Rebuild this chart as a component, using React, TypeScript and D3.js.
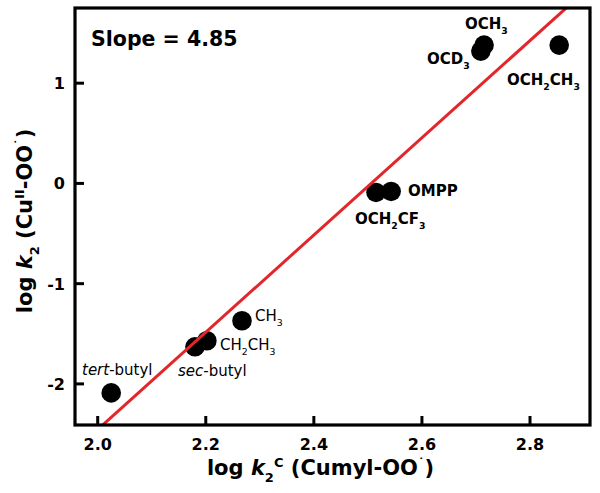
import * as d3 from "d3";

// log k2C (Cumyl-OO) vs log k2 (Cu(II)-OO) for each substituent
const names = ["tert-butyl", "sec-butyl", "CH2CH3", "CH3", "OCH2CF3", "OMPP", "OCD3", "OCH3", "OCH2CH3"];
const logK2C = [2.025, 2.18, 2.202, 2.267, 2.515, 2.543, 2.709, 2.715, 2.854];
const logK2 = [-2.09, -1.63, -1.57, -1.37, -0.09, -0.08, 1.32, 1.38, 1.38];

const fitSlope = 4.85;
const fitIntercept = -12.155;

const xTicks = [2.0, 2.2, 2.4, 2.6, 2.8];
const yTicks = [-2, -1, 0, 1];

const width = 600;
const height = 493;
const plot = { left: 75, right: 590, top: 8, bottom: 425 };
const font = "'DejaVu Sans', Arial, sans-serif";

type Part = { t: string; sub?: boolean; sup?: boolean; italic?: boolean };

function Rich({ x, y, parts, size, weight = "bold", anchor = "start", transform }: {
  x: number; y: number; parts: Part[]; size: number; weight?: string; anchor?: string; transform?: string;
}) {
  let cur = 0;
  return (
    <text x={x} y={y} fontSize={size} fontWeight={weight} fontFamily={font} textAnchor={anchor} transform={transform}>
      {parts.map((p, i) => {
        const target = p.sub ? size * 0.32 : p.sup ? -size * 0.4 : 0;
        const dy = target - cur;
        cur = target;
        return (
          <tspan key={i} dy={dy} fontSize={p.sub || p.sup ? size * 0.62 : size} fontStyle={p.italic ? "italic" : "normal"}>
            {p.t}
          </tspan>
        );
      })}
    </text>
  );
}

export default function App() {
  const x = d3.scaleLinear().domain([1.958, 2.911]).range([plot.left, plot.right]);
  const y = d3.scaleLinear().domain([-2.41, 1.75]).range([plot.bottom, plot.top]);
  const fit = (v: number) => fitIntercept + fitSlope * v;
  const line = d3.line<number>().x((d) => x(d)).y((d) => y(fit(d)));
  const fx = x.domain();

  const lab = 15;
  return (
    <svg width={width} height={height} style={{ position: "absolute", left: 0, top: 0, background: "#fff" }}>
      <defs>
        <clipPath id="clip">
          <rect x={plot.left} y={plot.top} width={plot.right - plot.left} height={plot.bottom - plot.top} />
        </clipPath>
      </defs>

      {/* points */}
      {names.map((n, i) => (
        <circle key={n} cx={x(logK2C[i])} cy={y(logK2[i])} r={9.8} fill="#000" />
      ))}

      {/* fit line */}
      <path d={line(fx) || ""} stroke="#e3262b" strokeWidth={3} fill="none" clipPath="url(#clip)" />

      {/* frame and ticks */}
      <rect x={plot.left} y={plot.top} width={plot.right - plot.left} height={plot.bottom - plot.top}
        fill="none" stroke="#000" strokeWidth={3.2} />
      {xTicks.map((t) => (
        <g key={t}>
          <line x1={x(t)} x2={x(t)} y1={plot.bottom} y2={plot.bottom - 9} stroke="#000" strokeWidth={3} />
          <text x={x(t)} y={450} textAnchor="middle" fontSize={16} fontWeight="bold" fontFamily={font}>
            {t.toFixed(1)}
          </text>
        </g>
      ))}
      {yTicks.map((t) => (
        <g key={t}>
          <line x1={plot.left} x2={plot.left + 9} y1={y(t)} y2={y(t)} stroke="#000" strokeWidth={3} />
          <text x={65} y={y(t) + 6} textAnchor="end" fontSize={16} fontWeight="bold" fontFamily={font}>
            {t}
          </text>
        </g>
      ))}

      {/* slope */}
      <text x={91} y={46} fontSize={20.5} fontWeight="bold" fontFamily={font}>Slope = 4.85</text>

      {/* point labels */}
      <Rich x={465} y={29} size={lab} parts={[{ t: "OCH" }, { t: "3", sub: true }]} />
      <Rich x={427} y={64} size={lab} parts={[{ t: "OCD" }, { t: "3", sub: true }]} />
      <Rich x={507} y={85} size={lab} parts={[{ t: "OCH" }, { t: "2", sub: true }, { t: "CH" }, { t: "3", sub: true }]} />
      <Rich x={408} y={196} size={lab} parts={[{ t: "OMPP" }]} />
      <Rich x={355} y={224} size={lab} parts={[{ t: "OCH" }, { t: "2", sub: true }, { t: "CF" }, { t: "3", sub: true }]} />
      <Rich x={255} y={321} size={lab} weight="normal" parts={[{ t: "CH" }, { t: "3", sub: true }]} />
      <Rich x={220} y={350} size={lab} weight="normal" parts={[{ t: "CH" }, { t: "2", sub: true }, { t: "CH" }, { t: "3", sub: true }]} />
      <Rich x={178} y={376} size={lab} weight="normal" parts={[{ t: "sec", italic: true }, { t: "-butyl" }]} />
      <Rich x={82} y={375} size={lab} weight="normal" parts={[{ t: "tert", italic: true }, { t: "-butyl" }]} />

      {/* axis titles */}
      <Rich x={(plot.left + plot.right) / 2 - 12} y={475} size={21} anchor="middle"
        parts={[{ t: "log " }, { t: "k", italic: true }, { t: "2", sub: true }, { t: "C", sup: true }, { t: " (Cumyl-OO" }, { t: "˙", sup: true }, { t: ")" }]} />
      <Rich x={0} y={0} size={21} anchor="middle" transform="translate(32,221) rotate(-90)"
        parts={[{ t: "log " }, { t: "k", italic: true }, { t: "2", sub: true }, { t: " (Cu" }, { t: "II", sup: true }, { t: "-OO" }, { t: "˙", sup: true }, { t: ")" }]} />
    </svg>
  );
}
